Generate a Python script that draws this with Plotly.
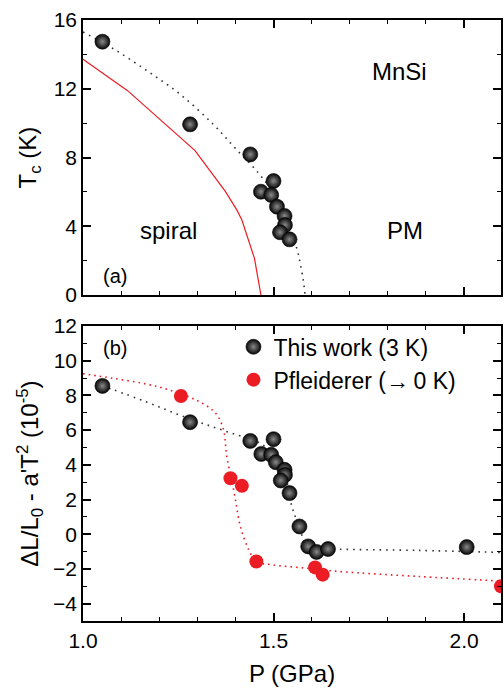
import plotly.graph_objects as go
from plotly.subplots import make_subplots

# ---- data: panel (a) ----
tc_p = [1.051, 1.281, 1.439, 1.500, 1.467, 1.494, 1.509, 1.529, 1.530, 1.517, 1.542]
tc_t = [14.74, 9.93, 8.18, 6.63, 6.01, 5.82, 5.14, 4.60, 4.07, 3.65, 3.24]
fit_a_p = [1.0, 1.078, 1.165, 1.252, 1.339, 1.40, 1.461, 1.50, 1.535, 1.561, 1.570, 1.578, 1.583]
fit_a_t = [15.3, 14.35, 13.09, 11.73, 9.99, 8.53, 7.08, 5.9, 4.2, 2.72, 1.84, 0.87, 0.0]
red_a_p = [1.0, 1.117, 1.294, 1.374, 1.404, 1.417, 1.450, 1.467]
red_a_t = [13.71, 11.89, 8.40, 6.01, 4.94, 4.36, 2.13, 0.0]

# ---- data: panel (b) ----
bw_p = [1.051, 1.281, 1.439, 1.500, 1.468, 1.494, 1.506, 1.529, 1.530, 1.519, 1.542,
        1.568, 1.591, 1.613, 1.643, 2.007]
bw_y = [8.55, 6.46, 5.38, 5.48, 4.63, 4.58, 4.15, 3.71, 3.42, 3.10, 2.37,
        0.45, -0.70, -1.02, -0.85, -0.74]
fit_bk_p = [1.051, 1.165, 1.252, 1.339, 1.417, 1.46, 1.50, 1.53, 1.548, 1.557, 1.574,
            1.585, 1.61, 1.669, 1.878, 2.1]
fit_bk_y = [8.55, 7.64, 6.88, 6.20, 5.63, 5.3, 4.6, 3.4, 1.60, 1.02, -0.03,
            -0.6, -0.8, -0.86, -0.93, -1.05]
pf_p = [1.257, 1.387, 1.417, 1.455, 1.609, 1.629, 2.097]
pf_y = [7.97, 3.23, 2.79, -1.57, -1.91, -2.33, -3.0]
fit_rd_p = [1.0, 1.078, 1.165, 1.226, 1.296, 1.339, 1.357, 1.370, 1.374, 1.378, 1.389,
            1.400, 1.413, 1.435, 1.455, 1.496, 1.583, 1.669, 1.878, 2.1]
fit_rd_y = [9.25, 8.99, 8.66, 8.32, 7.74, 7.17, 6.69, 5.92, 5.15, 4.39, 3.27,
            1.99, 0.45, -0.89, -1.57, -1.76, -1.95, -2.14, -2.43, -2.70]

FONT = "Liberation Sans, Arial, sans-serif"
RED = "#ec1c24"

fig = make_subplots(rows=2, cols=1, shared_xaxes=False, vertical_spacing=0.0)

sphere = dict(color="#050505", size=15,
              gradient=dict(type="radial", color="#8a8a8a"),
              line=dict(color="black", width=0.6))

# panel (a)
fig.add_trace(go.Scatter(x=fit_a_p, y=fit_a_t, mode="lines", line_shape="spline",
                         line=dict(color="#333333", width=1.6, dash="1.6px,5px"),
                         showlegend=False, hoverinfo="skip"), row=1, col=1)
fig.add_trace(go.Scatter(x=red_a_p, y=red_a_t, mode="lines",
                         line=dict(color=RED, width=1.2),
                         showlegend=False), row=1, col=1)
fig.add_trace(go.Scatter(x=tc_p, y=tc_t, mode="markers", marker=sphere,
                         showlegend=False), row=1, col=1)

# panel (b)
fig.add_trace(go.Scatter(x=fit_bk_p, y=fit_bk_y, mode="lines", line_shape="spline",
                         line=dict(color="#333333", width=1.6, dash="1.6px,5px"),
                         showlegend=False, hoverinfo="skip"), row=2, col=1)
fig.add_trace(go.Scatter(x=fit_rd_p, y=fit_rd_y, mode="lines", line_shape="spline",
                         line=dict(color=RED, width=1.6, dash="1.6px,4px"),
                         showlegend=False, hoverinfo="skip"), row=2, col=1)
fig.add_trace(go.Scatter(x=bw_p, y=bw_y, mode="markers", marker=sphere,
                         name="This work (3 K)"), row=2, col=1)
fig.add_trace(go.Scatter(x=pf_p, y=pf_y, mode="markers",
                         marker=dict(color=RED, size=14),
                         name="Pfleiderer (\u2192\u20090 K)", cliponaxis=True), row=2, col=1)

axis_common = dict(showline=True, linecolor="black", linewidth=1.6, mirror="allticks",
                   ticks="inside", ticklen=8, tickwidth=1.6, tickcolor="black",
                   showgrid=False, zeroline=False,
                   tickfont=dict(family=FONT, size=21, color="black"))

fig.update_xaxes(range=[1.0, 2.097], dtick=0.5, tick0=1.0, tickformat=".1f",
                 minor=dict(dtick=0.1, ticklen=4, tickwidth=1.4, tickcolor="black", ticks="inside"),
                 **axis_common)
fig.update_xaxes(showticklabels=False, row=1, col=1)
fig.update_xaxes(title=dict(text="P (GPa)", font=dict(family=FONT, size=24, color="black"),
                            standoff=14), row=2, col=1)

fig.update_yaxes(**axis_common)
fig.update_yaxes(range=[0, 16], dtick=4, tick0=0,
                 minor=dict(dtick=2, ticklen=4, tickwidth=1.4, tickcolor="black", ticks="inside"),
                 title=dict(text="T<sub>c</sub> (K)", font=dict(family=FONT, size=24, color="black"),
                            standoff=10),
                 domain=[0.5424, 1.0], row=1, col=1)
fig.update_yaxes(range=[-5, 12], dtick=2, tick0=0,
                 minor=dict(dtick=1, ticklen=4, tickwidth=1.4, tickcolor="black", ticks="inside"),
                 title=dict(text="\u0394L/L<sub>0</sub> - a'T<sup>2</sup> (10<sup>-5</sup>)",
                            font=dict(family=FONT, size=24, color="black"), standoff=8),
                 domain=[0.0, 0.4908], row=2, col=1)

ann_font = dict(family=FONT, size=24, color="black")
annotations = [
    dict(x=1.83, y=13.0, xref="x", yref="y", text="MnSi", showarrow=False, font=ann_font),
    dict(x=1.224, y=3.78, xref="x", yref="y", text="spiral", showarrow=False, font=ann_font),
    dict(x=1.844, y=3.78, xref="x", yref="y", text="PM", showarrow=False, font=ann_font),
    dict(x=1.085, y=1.1, xref="x", yref="y", text="(a)", showarrow=False,
         font=dict(family=FONT, size=20, color="black")),
    dict(x=1.083, y=10.75, xref="x2", yref="y2", text="(b)", showarrow=False,
         font=dict(family=FONT, size=20, color="black")),
]

fig.update_layout(
    width=504, height=693,
    margin=dict(l=83, r=1, t=20, b=72),
    paper_bgcolor="white", plot_bgcolor="white",
    font=dict(family=FONT, color="black"),
    annotations=annotations,
    legend=dict(x=0.36, y=0.492, xanchor="left", yanchor="top",
                bgcolor="rgba(0,0,0,0)", font=dict(family=FONT, size=23, color="black"),
                itemwidth=30, tracegroupgap=0),
    showlegend=True,
)

fig.write_html("out.html")
